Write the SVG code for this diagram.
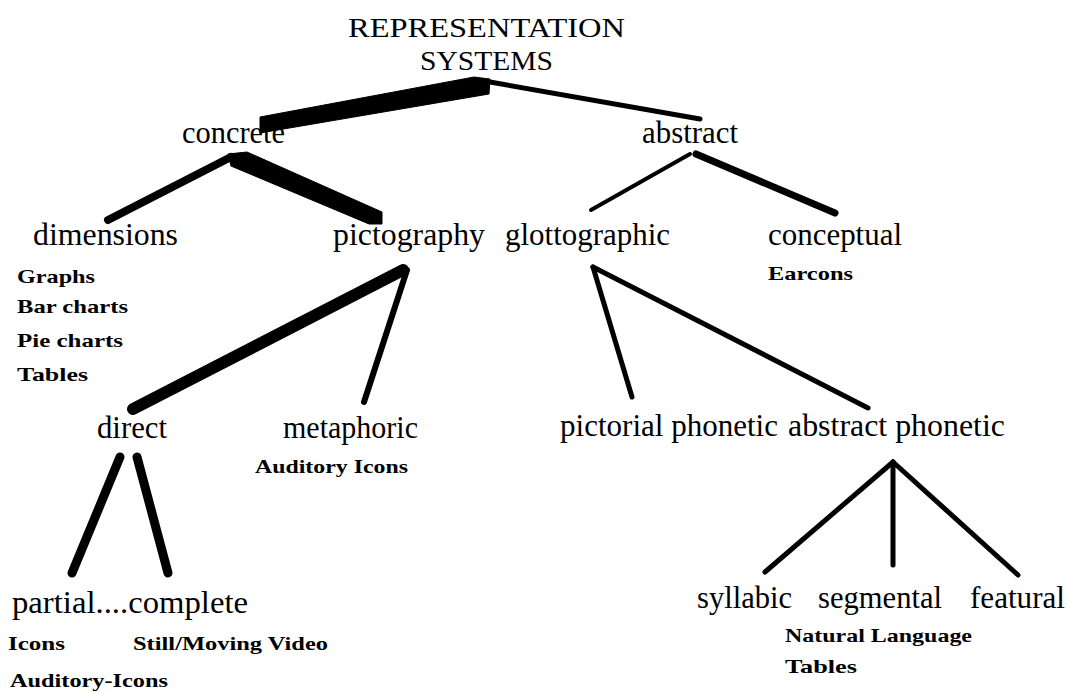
<svg xmlns="http://www.w3.org/2000/svg" width="1068" height="692" viewBox="0 0 1068 692">
  <style>
    .bg { fill: #ffffff; }
    .title { font-family: "Liberation Serif", "Times New Roman", serif; font-size: 28px; fill: #000; }
    .node { font-family: "Liberation Serif", "Times New Roman", serif; font-size: 31px; fill: #000; }
    .ex { font-family: "Liberation Serif", "Times New Roman", serif; font-size: 19px; font-weight: bold; fill: #000; }
    .edge { stroke: #000; fill: none; stroke-linecap: round; stroke-linejoin: round; }
    .band { fill: #000; stroke: #000; stroke-width: 1; stroke-linejoin: round; }
  </style>
  <rect class="bg" x="0" y="0" width="1068" height="692"/>

  <!-- connectors -->
  <g id="connectors">
    <!-- root to concrete (heavy band) and root to abstract -->
    <polygon class="band" points="260,117 474,77 490,79 489,94 260,133"/>
    <line class="edge" x1="490" y1="82" x2="700" y2="119" stroke-width="5"/>
    <!-- concrete -->
    <line class="edge" x1="231" y1="157" x2="108" y2="220" stroke-width="8" stroke-linecap="butt"/>
    <polygon class="band" points="228,154 247,152 382,212 382,224 369,224 231,166"/>
    <!-- abstract -->
    <line class="edge" x1="690" y1="154" x2="591" y2="210" stroke-width="4"/>
    <line class="edge" x1="696" y1="154" x2="835" y2="213" stroke-width="7"/>
    <!-- pictography -->
    <line class="edge" x1="403" y1="270" x2="133" y2="409" stroke-width="12" stroke-linecap="butt"/>
    <line class="edge" x1="407" y1="270" x2="364" y2="402" stroke-width="6"/>
    <!-- glottographic -->
    <line class="edge" x1="593" y1="267" x2="632" y2="397" stroke-width="5"/>
    <line class="edge" x1="593" y1="267" x2="868" y2="408" stroke-width="5"/>
    <!-- direct -->
    <line class="edge" x1="120" y1="457" x2="72" y2="573" stroke-width="9" stroke-linecap="butt"/>
    <line class="edge" x1="137" y1="457" x2="168" y2="573" stroke-width="9" stroke-linecap="butt"/>
    <!-- abstract phonetic -->
    <line class="edge" x1="893" y1="462" x2="765" y2="572" stroke-width="5"/>
    <line class="edge" x1="893" y1="462" x2="893" y2="565" stroke-width="5"/>
    <line class="edge" x1="893" y1="462" x2="1018" y2="575" stroke-width="5"/>
  </g>

  <!-- nodes -->
  <g id="root">
    <text class="title" x="348" y="37" textLength="277" lengthAdjust="spacingAndGlyphs">REPRESENTATION</text>
    <text class="title" x="420" y="70" textLength="133" lengthAdjust="spacingAndGlyphs">SYSTEMS</text>
  </g>
  <g id="concrete">
    <text class="node" x="182" y="143" textLength="103" lengthAdjust="spacingAndGlyphs">concrete</text>
  </g>
  <g id="abstract">
    <text class="node" x="642" y="143" textLength="96" lengthAdjust="spacingAndGlyphs">abstract</text>
  </g>
  <g id="dimensions">
    <text class="node" x="33" y="245" textLength="145" lengthAdjust="spacingAndGlyphs">dimensions</text>
    <text class="ex" x="17" y="283" textLength="78" lengthAdjust="spacingAndGlyphs">Graphs</text>
    <text class="ex" x="17" y="313" textLength="111" lengthAdjust="spacingAndGlyphs">Bar charts</text>
    <text class="ex" x="17" y="347" textLength="106" lengthAdjust="spacingAndGlyphs">Pie charts</text>
    <text class="ex" x="17" y="381" textLength="71" lengthAdjust="spacingAndGlyphs">Tables</text>
  </g>
  <g id="pictography">
    <text class="node" x="333" y="245" textLength="152" lengthAdjust="spacingAndGlyphs">pictography</text>
  </g>
  <g id="glottographic">
    <text class="node" x="505" y="245" textLength="165" lengthAdjust="spacingAndGlyphs">glottographic</text>
  </g>
  <g id="conceptual">
    <text class="node" x="768" y="245" textLength="134" lengthAdjust="spacingAndGlyphs">conceptual</text>
    <text class="ex" x="768" y="280" textLength="85" lengthAdjust="spacingAndGlyphs">Earcons</text>
  </g>
  <g id="direct">
    <text class="node" x="97" y="438" textLength="70" lengthAdjust="spacingAndGlyphs">direct</text>
  </g>
  <g id="metaphoric">
    <text class="node" x="283" y="438" textLength="135" lengthAdjust="spacingAndGlyphs">metaphoric</text>
    <text class="ex" x="255" y="473" textLength="153" lengthAdjust="spacingAndGlyphs">Auditory Icons</text>
  </g>
  <g id="pictorial-phonetic">
    <text class="node" x="560" y="436" textLength="218" lengthAdjust="spacingAndGlyphs">pictorial phonetic</text>
  </g>
  <g id="abstract-phonetic">
    <text class="node" x="788" y="436" textLength="217" lengthAdjust="spacingAndGlyphs">abstract phonetic</text>
  </g>
  <g id="partial-complete">
    <text class="node" x="12" y="613" textLength="236" lengthAdjust="spacingAndGlyphs">partial....complete</text>
    <text class="ex" x="8" y="650" textLength="57" lengthAdjust="spacingAndGlyphs">Icons</text>
    <text class="ex" x="133" y="650" textLength="195" lengthAdjust="spacingAndGlyphs">Still/Moving Video</text>
    <text class="ex" x="10" y="687" textLength="158" lengthAdjust="spacingAndGlyphs">Auditory-Icons</text>
  </g>
  <g id="syllabic">
    <text class="node" x="697" y="608" textLength="95" lengthAdjust="spacingAndGlyphs">syllabic</text>
  </g>
  <g id="segmental">
    <text class="node" x="818" y="608" textLength="124" lengthAdjust="spacingAndGlyphs">segmental</text>
    <text class="ex" x="785" y="642" textLength="187" lengthAdjust="spacingAndGlyphs">Natural Language</text>
    <text class="ex" x="785" y="673" textLength="72" lengthAdjust="spacingAndGlyphs">Tables</text>
  </g>
  <g id="featural">
    <text class="node" x="970" y="608" textLength="95" lengthAdjust="spacingAndGlyphs">featural</text>
  </g>
</svg>
